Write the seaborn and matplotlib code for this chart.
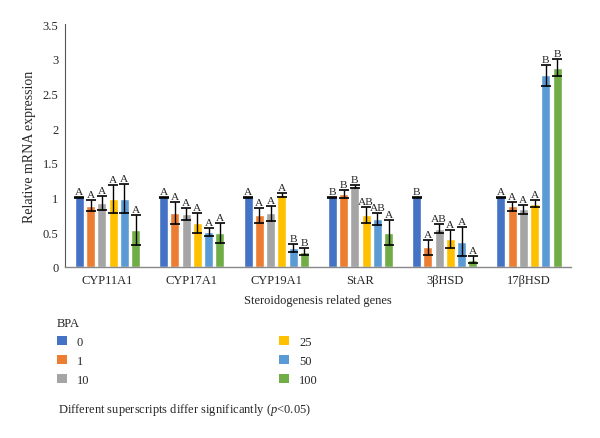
import numpy as np
import pandas as pd
import matplotlib
matplotlib.use("Agg")
import matplotlib.pyplot as plt
from matplotlib.patches import Patch
import seaborn as sns

genes = ["CYP11A1", "CYP17A1", "CYP19A1", "StAR", "3βHSD", "17βHSD"]
doses = ["0", "1", "10", "25", "50", "100"]
colors = ["#4472C4", "#ED7D31", "#A5A5A5", "#FFC000", "#5B9BD5", "#70AD47"]

# mean expression, one list per dose (order follows genes)
mean_0 = [1.00, 1.00, 1.00, 1.00, 1.00, 1.00]
mean_1 = [0.88, 0.77, 0.74, 1.05, 0.28, 0.87]
mean_10 = [0.92, 0.76, 0.77, 1.16, 0.55, 0.83]
mean_25 = [0.98, 0.63, 1.03, 0.75, 0.40, 0.91]
mean_50 = [0.98, 0.50, 0.27, 0.69, 0.36, 2.76]
mean_100 = [0.53, 0.49, 0.22, 0.49, 0.10, 2.87]

err_0 = [0.01, 0.01, 0.01, 0.01, 0.01, 0.01]
err_1 = [0.08, 0.16, 0.11, 0.06, 0.11, 0.07]
err_10 = [0.10, 0.09, 0.11, 0.02, 0.07, 0.065]
err_25 = [0.20, 0.15, 0.03, 0.115, 0.13, 0.055]
err_50 = [0.21, 0.055, 0.06, 0.085, 0.21, 0.15]
err_100 = [0.22, 0.14, 0.05, 0.18, 0.05, 0.12]

letters_0 = ["A", "A", "A", "B", "B", "A"]
letters_1 = ["A", "A", "A", "B", "A", "A"]
letters_10 = ["A", "A", "A", "B", "AB", "A"]
letters_25 = ["A", "A", "A", "AB", "A", "A"]
letters_50 = ["A", "A", "B", "AB", "A", "B"]
letters_100 = ["A", "A", "B", "A", "A", "B"]

means = [mean_0, mean_1, mean_10, mean_25, mean_50, mean_100]
errs = [err_0, err_1, err_10, err_25, err_50, err_100]
letters = [letters_0, letters_1, letters_10, letters_25, letters_50, letters_100]

rows = []
for d, dose in enumerate(doses):
    for g, gene in enumerate(genes):
        rows.append({"gene": gene, "dose": dose, "value": means[d][g]})
df = pd.DataFrame(rows)

sns.set_style("white")
plt.rcParams["font.family"] = ["Liberation Serif", "DejaVu Serif"]
plt.rcParams["mathtext.fontset"] = "custom"
plt.rcParams["mathtext.it"] = "Liberation Serif:italic"

fig = plt.figure(figsize=(6, 4.39), dpi=100)
ax = fig.add_axes([0.109, 0.39, 0.843, 0.553])

sns.barplot(data=df, x="gene", y="value", hue="dose", order=genes,
            hue_order=doses, palette=colors, errorbar=None, width=0.8,
            gap=0.2, saturation=1, legend=False, ax=ax)

bar_groups = list(ax.containers)
for d, cont in enumerate(bar_groups):
    for patch in cont.patches:
        cx = patch.get_x() + patch.get_width() / 2
        g = int(round(cx))
        h = patch.get_height()
        e = errs[d][g]
        ax.errorbar(cx, h, yerr=e, fmt="none", ecolor="black",
                    elinewidth=1, capsize=3.5, capthick=1.2)
        ax.text(cx, h + e + 0.015, letters[d][g], ha="center", va="bottom",
                fontsize=8.2)

ax.set_ylim(0, 3.5)
ax.set_yticks(np.arange(0, 3.51, 0.5))
ax.set_yticklabels(["0", "0.5", "1", "1.5", "2", "2.5", "3", "3.5"])
ax.set_xlim(-0.5, len(genes) - 0.5)
ax.tick_params(axis="both", labelsize=9, length=0, pad=5)
ax.set_xlabel("Steroidogenesis related genes", fontsize=9, labelpad=6)
ax.set_ylabel("Relative mRNA expression", fontsize=10, labelpad=5)
for s in ["top", "right"]:
    ax.spines[s].set_visible(False)
ax.spines["left"].set_color("#555555")
ax.spines["bottom"].set_color("#888888")
ax.spines["left"].set_linewidth(0.8)
ax.spines["bottom"].set_linewidth(1.0)

handles = [Patch(facecolor=c, edgecolor="none") for c in colors]
leg = fig.legend(handles, doses, title="BPA", loc="upper left",
                 bbox_to_anchor=(0.086, 0.287), ncol=2, frameon=False,
                 fontsize=9, title_fontsize=9, alignment="left",
                 handlelength=0.8, handleheight=0.8, handletextpad=0.8,
                 columnspacing=15.2, labelspacing=0.55, borderaxespad=0)

fig.text(0.097, 0.066,
         "Different superscripts differ significantly ($\\it{p}$<0.05)",
         fontsize=9, ha="left", va="center")

fig.savefig("out.png", dpi=100)
